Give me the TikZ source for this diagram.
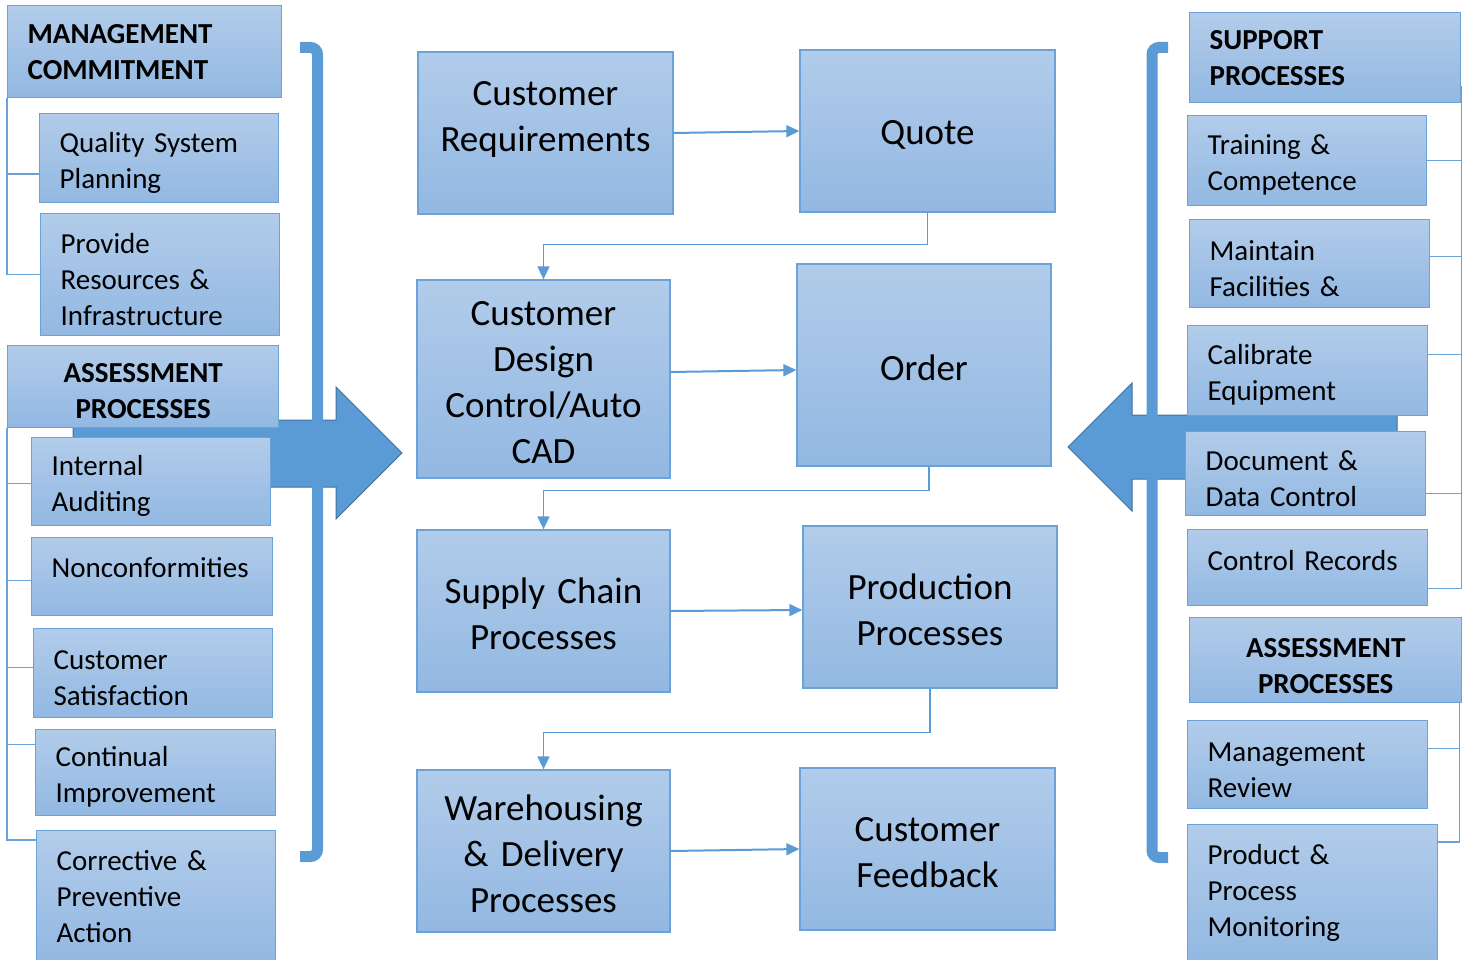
\documentclass[tikz,border=0pt]{standalone}
\usepackage{fontspec}
\setmainfont{Carlito}
\usetikzlibrary{arrows.meta}

\definecolor{accent}{RGB}{91,155,213}
\definecolor{accentdark}{RGB}{65,113,156}
\definecolor{boxtop}{RGB}{178,204,234}
\definecolor{boxbottom}{RGB}{146,184,226}
\definecolor{boxline}{RGB}{108,162,218}

\tikzstyle{box} = [draw=boxline, line width=1.3pt, top color=boxtop, bottom color=boxbottom, inner sep=0pt]
\tikzstyle{procbox} = [box, font=\fontsize{37}{46}\selectfont, align=center, text width=254pt, minimum height=162pt,
                       execute at begin node=\rule{0pt}{32pt}]
\tikzstyle{sidebox} = [box, font=\fontsize{29}{36}\selectfont, align=left, anchor=north west, inner xsep=20pt,
                       execute at begin node=\rule{0pt}{29pt}]
\tikzstyle{sidehead} = [box, font=\bfseries\fontsize{29}{36}\selectfont, align=left, anchor=north west, inner xsep=20pt]
\tikzstyle{flowarrow} = [draw=accent, line width=2pt, -{Triangle[length=13pt,width=12pt]}]
\tikzstyle{flowlink} = [draw=accent, line width=1.6pt, -{Triangle[length=13pt,width=12pt]}]
\tikzstyle{treeline} = [draw=boxline, line width=1.3pt]
\tikzstyle{bigarrow} = [fill=accent, draw=accentdark, line width=1pt]
\tikzstyle{bracket} = [draw=accent, line width=11pt, rounded corners=7pt]

\begin{document}
\begin{tikzpicture}[x=1pt, y=-1pt]
\useasboundingbox (0,0) rectangle (1469,960);

% big arrows and brackets behind the boxes
\draw[bigarrow] (73,420) -- (336,420) -- (336,387) -- (402,453) -- (336,519) -- (336,487) -- (73,487) -- cycle;
\draw[bigarrow] (1397,415) -- (1132,415) -- (1132,383) -- (1068,447) -- (1132,511) -- (1132,479) -- (1397,479) -- cycle;
\draw[bracket] (300,47.5) -- (317.5,47.5) -- (317.5,856.5) -- (300,856.5);
\draw[bracket] (1168,47.5) -- (1152,47.5) -- (1152,857.5) -- (1168,857.5);

% left column
\node (mgmt) [sidehead, text width=234pt, minimum height=92pt] at (7,5) {MANAGEMENT\\COMMITMENT};
\node (planning) [sidebox, text width=199pt, minimum height=89pt] at (39,113) {Quality System\\Planning};
\node (resources) [sidebox, text width=199pt, minimum height=122pt] at (40,213) {Provide\\Resources \&\\Infrastructure};
\node (assessleft) [sidehead, text width=231pt, minimum height=82pt, align=center, execute at begin node=\rule{0pt}{28pt}] at (7,345) {ASSESSMENT\\PROCESSES};
\node (auditing) [sidebox, text width=199pt, minimum height=88pt] at (31,437) {Internal\\Auditing};
\node (nonconf) [sidebox, text width=201pt, minimum height=78pt, text depth=28pt] at (31,537) {Nonconformities};
\node (satisfaction) [sidebox, text width=199pt, minimum height=89pt] at (33,628) {Customer\\Satisfaction};
\node (improvement) [sidebox, text width=200pt, minimum height=86pt] at (35,729) {Continual\\Improvement};
\node (corrective) [sidebox, text width=199pt, minimum height=132pt, execute at end node={\rule[-10pt]{0pt}{0pt}}] at (36,830) {Corrective \&\\Preventive\\Action};

% right column
\node (support) [sidehead, text width=231pt, minimum height=90pt] at (1189,12) {SUPPORT\\PROCESSES};
\node (training) [sidebox, text width=199pt, minimum height=90pt] at (1187,115) {Training \&\\Competence};
\node (facilities) [sidebox, text width=200pt, minimum height=88pt] at (1189,219) {Maintain\\Facilities \&};
\node (calibrate) [sidebox, text width=200pt, minimum height=90pt] at (1187,325) {Calibrate\\Equipment};
\node (document) [sidebox, text width=200pt, minimum height=84pt] at (1185,431) {Document \&\\Data Control};
\node (records) [sidebox, text width=200pt, minimum height=76pt, text depth=24pt] at (1187,529) {Control Records};
\node (assessright) [sidehead, text width=232pt, minimum height=85pt, align=center, execute at begin node=\rule{0pt}{30pt}] at (1189,617) {ASSESSMENT\\PROCESSES};
\node (review) [sidebox, text width=200pt, minimum height=88pt] at (1187,720) {Management\\Review};
\node (monitoring) [sidebox, text width=210pt, minimum height=138pt, execute at end node={\rule[-16pt]{0pt}{0pt}}] at (1187,824) {Product \&\\Process\\Monitoring};

% main flow
\node (requirements) [procbox, text width=255pt, execute at end node={\rule[-41pt]{0pt}{0pt}}] at (545.5,133) {Customer\\Requirements};
\node (quote) [procbox, text width=255pt] at (927.5,131) {Quote};
\node (design) [procbox, text width=253pt, minimum height=198pt] at (543.5,379) {Customer\\Design\\Control/Auto\\CAD};
\node (order) [procbox, minimum height=202pt] at (924,365) {Order};
\node (supply) [procbox, text width=253pt] at (543.5,611) {Supply Chain\\Processes};
\node (production) [procbox] at (930,607) {Production\\Processes};
\node (warehousing) [procbox, text width=253pt] at (543.5,851) {Warehousing\\\& Delivery\\Processes};
\node (feedback) [procbox, text width=255pt] at (927.5,849) {Customer\\Feedback};

\path (requirements.east) edge[flowarrow] (quote.west)
      ([yshift=7pt]design.east) edge[flowarrow] ([yshift=-5pt]order.west)
      (supply.east) edge[flowarrow] ([yshift=-3pt]production.west)
      (warehousing.east) edge[flowarrow] (feedback.west);

\draw[flowlink] (quote.south) -- ++(0,32) -| (design.north);
\draw[flowlink] ([xshift=5pt]order.south) -- ++(0,24) -| (supply.north);
\draw[flowlink] (production.south) -- ++(0,44) -| (warehousing.north);

% thin tree lines
\draw[treeline] (mgmt.south west) |- ([yshift=-16pt]planning.west)
                (mgmt.south west) |- (resources.west);
\draw[treeline] (assessleft.south west) |- ([yshift=-2pt]auditing.west)
                (assessleft.south west) |- ([yshift=-4pt]nonconf.west)
                (assessleft.south west) |- ([yshift=6pt]satisfaction.west)
                (assessleft.south west) |- ([yshift=28pt]improvement.west)
                (assessleft.south west) |- ([yshift=-10pt]corrective.north west);
\draw[treeline] ([yshift=17pt]support.south east) |- (training.east)
                ([yshift=17pt]support.south east) |- ([yshift=7pt]facilities.east)
                ([yshift=17pt]support.south east) |- ([yshift=16pt]calibrate.east)
                ([yshift=17pt]support.south east) |- ([yshift=-20pt]document.east)
                ([yshift=17pt]support.south east) |- ([yshift=-21pt]records.east);
\draw[treeline] ([xshift=-3pt]assessright.south east) |- ([yshift=16pt]review.east)
                ([xshift=-3pt]assessright.south east) |- ([yshift=-18pt]monitoring.north east);
\end{tikzpicture}
\end{document}
